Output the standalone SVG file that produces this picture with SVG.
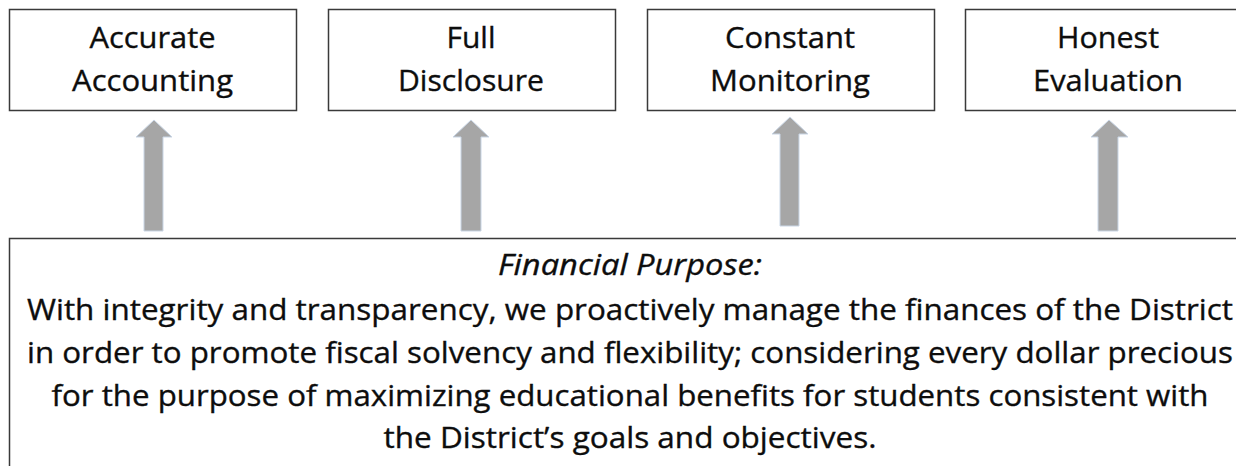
<svg xmlns="http://www.w3.org/2000/svg" width="1236" height="466" viewBox="0 0 1236 466">
<style>
.box{fill:#ffffff;stroke:#3a3a3a;stroke-width:1.5}
.t{font-family:"Open Sans","Liberation Sans",sans-serif;font-size:30px;fill:#0d0d0d;stroke:#0d0d0d;stroke-width:0.35;text-anchor:middle}
.it{font-style:italic}
.arr{fill:#a6a6a6;stroke:#c9d6e6;stroke-width:1}
</style>
<rect width="1236" height="466" fill="#ffffff"/>
<g id="node-accurate-accounting">
<rect class="box" x="9.5" y="9.5" width="287" height="101"/>
<text class="t" x="152.5" y="48" textLength="126" lengthAdjust="spacingAndGlyphs">Accurate</text>
<text class="t" x="152.5" y="91" textLength="161" lengthAdjust="spacingAndGlyphs">Accounting</text>
</g>
<g id="node-full-disclosure">
<rect class="box" x="328.5" y="9.5" width="287" height="101"/>
<text class="t" x="471" y="48" textLength="49" lengthAdjust="spacingAndGlyphs">Full</text>
<text class="t" x="471" y="91" textLength="146" lengthAdjust="spacingAndGlyphs">Disclosure</text>
</g>
<g id="node-constant-monitoring">
<rect class="box" x="647.5" y="9.5" width="287" height="101"/>
<text class="t" x="790" y="48" textLength="130" lengthAdjust="spacingAndGlyphs">Constant</text>
<text class="t" x="790" y="91" textLength="160" lengthAdjust="spacingAndGlyphs">Monitoring</text>
</g>
<g id="node-honest-evaluation">
<rect class="box" x="965.5" y="9.5" width="287" height="101"/>
<text class="t" x="1108" y="48" textLength="102" lengthAdjust="spacingAndGlyphs">Honest</text>
<text class="t" x="1108" y="91" textLength="150" lengthAdjust="spacingAndGlyphs">Evaluation</text>
</g>
<g id="node-financial-purpose">
<rect class="box" x="9.5" y="238.5" width="1250" height="240"/>
<text class="t it" x="630" y="275" textLength="264" lengthAdjust="spacingAndGlyphs">Financial Purpose:</text>
<text class="t" x="630" y="320" textLength="1206" lengthAdjust="spacingAndGlyphs">With integrity and transparency, we proactively manage the finances of the District</text>
<text class="t" x="630" y="363" textLength="1206" lengthAdjust="spacingAndGlyphs">in order to promote fiscal solvency and flexibility; considering every dollar precious</text>
<text class="t" x="630" y="406" textLength="1157" lengthAdjust="spacingAndGlyphs">for the purpose of maximizing educational benefits for students consistent with</text>
<text class="t" x="630" y="448" textLength="493" lengthAdjust="spacingAndGlyphs">the District’s goals and objectives.</text>
</g>
<g id="connectors">
<path class="arr" d="M154,120 L172,137 L163,137 L163,231 L144,231 L144,137 L136,137 Z"/>
<path class="arr" d="M471,120 L489,137 L481,137 L481,231 L461,231 L461,137 L453,137 Z"/>
<path class="arr" d="M790,117 L808,134 L799,134 L799,226 L780,226 L780,134 L772,134 Z"/>
<path class="arr" d="M1109,120 L1128,137 L1118,137 L1118,231 L1098,231 L1098,137 L1091,137 Z"/>
</g>
</svg>
